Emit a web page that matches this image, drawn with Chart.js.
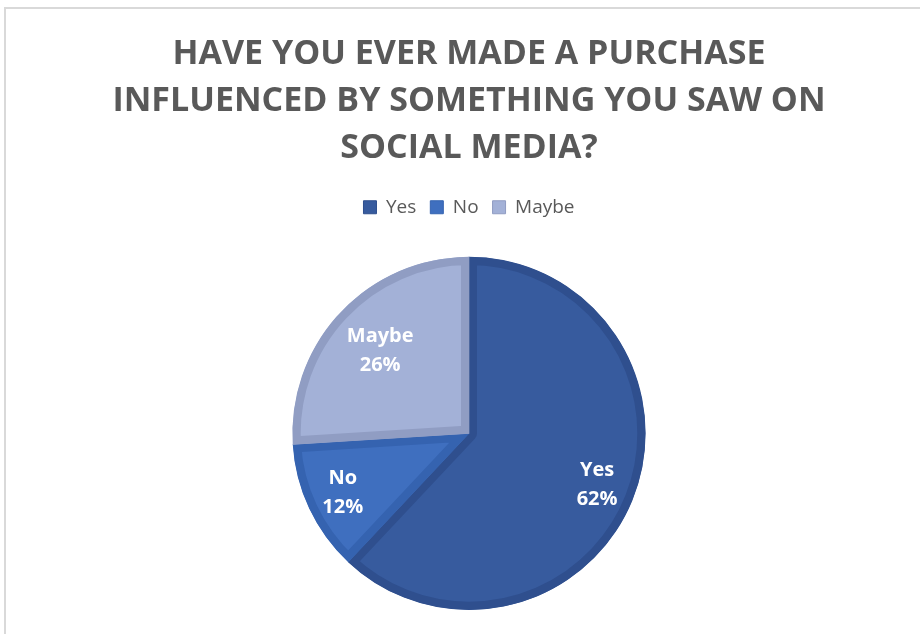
<!DOCTYPE html>
<html>
<head>
<meta charset="utf-8">
<script src="https://cdn.jsdelivr.net/npm/chart.js@4"></script>
<style>
html,body{margin:0;padding:0;background:#fff;}
#wrap{position:absolute;left:0;top:0;width:920px;height:634px;}
#frame{position:absolute;left:4px;top:7px;right:-2px;bottom:-2px;border-top:2px solid #d9d9d9;border-left:2px solid #d9d9d9;}
canvas{position:absolute;left:0;top:0;}
</style>
</head>
<body>
<div id="wrap"><div id="frame"></div><canvas id="c" width="920" height="634"></canvas></div>
<script>
const categories = ['Yes', 'No', 'Maybe'];
const values = [62, 12, 26];
const fillColors = ['#375B9E', '#3F6FBF', '#A3B1D7'];
const edgeColors = ['#2F4F8E', '#3563B0', '#909DC3'];
const titleLines = ['HAVE YOU EVER MADE A PURCHASE', 'INFLUENCED BY SOMETHING YOU SAW ON', 'SOCIAL MEDIA?'];

const legendGap = {
  id: 'legendGap',
  beforeInit(chart) {
    const origFit = chart.legend.fit;
    chart.legend.fit = function () {
      origFit.bind(chart.legend)();
      this.height += 30;
    };
  }
};

const sliceLabels = {
  id: 'sliceLabels',
  afterDatasetsDraw(chart, args, opts) {
    const ctx = chart.ctx;
    const meta = chart.getDatasetMeta(0);
    const total = values.reduce((a, b) => a + b, 0);
    ctx.save();
    ctx.fillStyle = '#ffffff';
    ctx.font = 'bold 20px "Open Sans", sans-serif';
    ctx.textAlign = 'center';
    ctx.textBaseline = 'middle';
    meta.data.forEach((arc, i) => {
      const p = arc.getProps(['x', 'y', 'startAngle', 'endAngle', 'outerRadius'], true);
      const mid = (p.startAngle + p.endAngle) / 2;
      const rr = p.outerRadius * opts.radial[i];
      const x = p.x + Math.cos(mid) * rr;
      const y = p.y + Math.sin(mid) * rr;
      const pct = Math.round(values[i] / total * 100) + '%';
      ctx.fillText(categories[i], x, y - 14);
      ctx.fillText(pct, x, y + 15);
    });
    ctx.restore();
  }
};

new Chart(document.getElementById('c'), {
  type: 'pie',
  data: {
    labels: categories,
    datasets: [{
      data: values,
      backgroundColor: fillColors,
      borderColor: edgeColors,
      borderWidth: 8,
      borderAlign: 'inner'
    }]
  },
  options: {
    responsive: false,
    animation: false,
    layout: { padding: { left: 18, right: 0, top: 0, bottom: 24 } },
    plugins: {
      title: {
        display: true,
        text: titleLines,
        color: '#595959',
        font: { family: '"Open Sans", sans-serif', size: 34, weight: 'bold', lineHeight: 1.38 },
        padding: { top: 31, bottom: 12 }
      },
      legend: {
        display: true,
        position: 'top',
        labels: {
          color: '#595959',
          font: { family: '"Open Sans", sans-serif', size: 19 },
          boxWidth: 13,
          boxHeight: 13,
          padding: 14,
          generateLabels(chart) {
            return categories.map((c, i) => ({
              text: c,
              fillStyle: fillColors[i],
              strokeStyle: edgeColors[i],
              lineWidth: 1,
              fontColor: '#595959',
              hidden: false,
              index: i
            }));
          }
        }
      },
      sliceLabels: { radial: [0.78, 0.79, 0.69] },
      tooltip: { enabled: false }
    }
  },
  plugins: [legendGap, sliceLabels]
});
</script>
</body>
</html>
